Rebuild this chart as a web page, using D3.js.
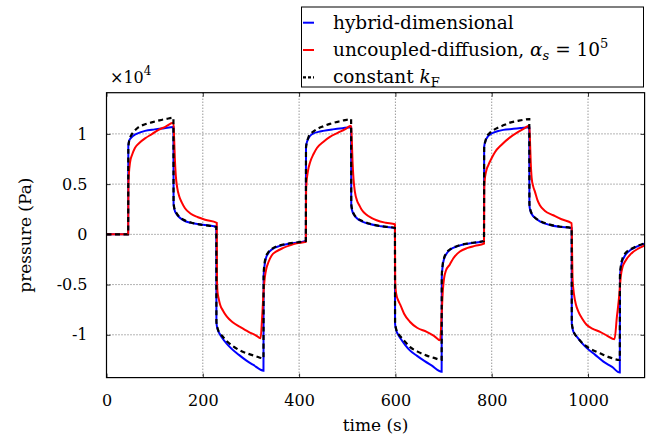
<!DOCTYPE html>
<html><head><meta charset="utf-8">
<script src="https://cdn.jsdelivr.net/npm/d3@7"></script>
<style>body{margin:0;background:#fff}svg{display:block}text{font-family:"DejaVu Serif",serif;fill:#000}</style>
</head><body>
<svg id="c" width="647" height="441"></svg>
<script>
const xTicks = [0,200,400,600,800,1000];
const yTicks = [-1,-0.5,0,0.5,1];
const yTickLabels = ["-1","-0.5","0","0.5","1"];
const seriesNames = ["hybrid-dimensional","uncoupled-diffusion","constant kF"];

const hybrid = [
[0,0],[45,0],[45.3,0.88],[47,0.93],[50,0.955],[55,0.98],[60,0.995],[70,1.015],[80,1.03],[100,1.045],[120,1.057],[139,1.068],
[139.3,0.30],[141,0.25],[145,0.205],[150,0.175],[160,0.14],[175,0.115],[200,0.095],[228,0.075],
[228.3,-0.88],[231,-0.95],[235,-0.99],[240,-1.03],[250,-1.09],[260,-1.14],[275,-1.20],[290,-1.255],[305,-1.30],[326,-1.357],
[326.3,-0.42],[328,-0.32],[331,-0.24],[335,-0.195],[345,-0.145],[360,-0.115],[380,-0.092],[414,-0.066],
[414.3,0.87],[417,0.93],[420,0.96],[425,0.99],[430,1.005],[440,1.02],[450,1.03],[470,1.045],[490,1.057],[508,1.066],
[508.3,0.29],[510,0.24],[514,0.195],[520,0.16],[530,0.13],[545,0.105],[570,0.08],[599,0.062],
[599.3,-0.89],[602,-0.96],[606,-1.0],[611,-1.04],[620,-1.10],[630,-1.155],[645,-1.21],[660,-1.26],[675,-1.305],[696,-1.367],
[696.3,-0.43],[698,-0.32],[701,-0.245],[705,-0.20],[715,-0.148],[730,-0.117],[750,-0.093],[784,-0.067],
[784.3,0.87],[787,0.93],[790,0.96],[797,0.995],[805,1.015],[815,1.03],[824,1.04],[845,1.05],[860,1.058],[878,1.067],
[878.3,0.29],[880,0.24],[884,0.195],[890,0.165],[900,0.13],[921,0.093],[940,0.075],[966,0.062],
[966.3,-0.89],[969,-0.96],[972,-0.99],[977,-1.02],[987,-1.08],[997,-1.13],[1015,-1.2],[1032,-1.267],[1050,-1.32],[1066,-1.376],
[1066.3,-0.43],[1068,-0.34],[1071,-0.27],[1074,-0.235],[1080,-0.19],[1088,-0.156],[1100,-0.125],[1118,-0.09]
];
const uncoupled = [
[0,0],[45,0],[45.5,0.50],[46.5,0.60],[49,0.72],[53,0.79],[59,0.86],[68,0.91],[80,0.955],[95,1.0],[108,1.04],[122,1.07],[139,1.11],
[140.5,0.95],[142,0.75],[144,0.58],[147,0.46],[151,0.38],[156,0.32],[163,0.26],[175,0.205],[190,0.17],[205,0.145],[229,0.115],
[229.5,-0.45],[230.5,-0.57],[233,-0.64],[236,-0.70],[242,-0.76],[250,-0.82],[262,-0.875],[277,-0.92],[295,-0.97],[310,-1.005],[320,-1.035],
[323.5,-0.8],[326.5,-0.55],[329,-0.42],[332,-0.34],[336,-0.28],[343,-0.21],[353,-0.17],[367,-0.135],[381,-0.11],[395,-0.09],[414,-0.075],
[414.5,0.42],[415.5,0.52],[418,0.62],[423,0.72],[430,0.80],[437,0.86],[450,0.92],[464,0.97],[480,1.01],[495,1.045],[508,1.08],
[509.5,0.93],[511,0.72],[513,0.55],[516,0.42],[520,0.34],[525,0.29],[530,0.245],[540,0.195],[550,0.165],[561,0.14],[580,0.115],[599,0.1],
[599.5,-0.45],[600.5,-0.55],[603,-0.62],[606,-0.66],[610,-0.70],[618,-0.79],[630,-0.87],[645,-0.93],[665,-0.97],[680,-1.01],[693,-1.055],
[696,-0.8],[698.5,-0.56],[701,-0.44],[705,-0.36],[713,-0.30],[720,-0.24],[734,-0.17],[750,-0.135],[765,-0.115],[784,-0.092],
[784.5,0.45],[785.5,0.54],[788,0.62],[793,0.69],[800,0.76],[807,0.82],[820,0.89],[838,0.965],[855,1.02],[866,1.05],[878,1.08],
[879.5,0.93],[881,0.72],[883,0.56],[886,0.48],[890,0.42],[895,0.34],[900,0.29],[910,0.235],[928,0.19],[945,0.15],[966,0.11],
[967,-0.2],[968,-0.45],[971,-0.6],[975,-0.7],[980,-0.77],[988,-0.84],[997,-0.9],[1010,-0.94],[1025,-0.97],[1040,-1.01],[1055,-1.045],
[1060,-0.82],[1065,-0.6],[1068,-0.42],[1072,-0.32],[1077,-0.27],[1090,-0.19],[1105,-0.14],[1118,-0.11]
];
const constantKF = [
[0,0],[45,0],[45.3,0.86],[47,0.93],[50,0.975],[53,1.0],[58,1.03],[66,1.065],[80,1.095],[94,1.115],[110,1.135],[125,1.15],[139,1.16],
[139.3,0.32],[141,0.26],[145,0.215],[150,0.18],[160,0.145],[175,0.118],[200,0.093],[228,0.073],
[228.3,-0.87],[231,-0.94],[235,-0.98],[240,-1.01],[250,-1.065],[263,-1.115],[277,-1.155],[295,-1.19],[310,-1.213],[326,-1.234],
[326.3,-0.40],[328,-0.30],[331,-0.225],[335,-0.185],[345,-0.14],[360,-0.11],[380,-0.09],[414,-0.065],
[414.3,0.86],[417,0.93],[420,0.975],[424,1.0],[430,1.025],[440,1.055],[450,1.075],[464,1.10],[480,1.12],[495,1.137],[508,1.147],
[508.3,0.31],[510,0.25],[514,0.2],[520,0.165],[530,0.135],[545,0.108],[570,0.082],[599,0.063],
[599.3,-0.88],[602,-0.95],[606,-0.99],[611,-1.02],[620,-1.07],[630,-1.12],[645,-1.165],[665,-1.207],[680,-1.23],[696,-1.25],
[696.3,-0.41],[698,-0.31],[701,-0.235],[705,-0.19],[715,-0.145],[730,-0.113],[750,-0.09],[784,-0.066],
[784.3,0.86],[787,0.93],[790,0.975],[794,1.0],[800,1.025],[810,1.055],[822,1.08],[838,1.112],[855,1.13],[866,1.14],[878,1.147],
[878.3,0.31],[880,0.25],[884,0.2],[890,0.165],[900,0.135],[921,0.097],[940,0.078],[966,0.063],
[966.3,-0.88],[969,-0.95],[972,-0.99],[977,-1.02],[990,-1.09],[1005,-1.14],[1025,-1.184],[1045,-1.225],[1066,-1.25],
[1066.3,-0.41],[1068,-0.32],[1071,-0.25],[1074,-0.215],[1080,-0.175],[1088,-0.15],[1100,-0.12],[1118,-0.088]
];

const svg = d3.select("#c");
const L = 106.5, R = 644.6, T = 92.7, B = 377.6;
const x = d3.scaleLinear().domain([0, 1117.5]).range([L, R]);
const y = d3.scaleLinear().domain([-1.426, 1.41]).range([B, T]);

svg.append("defs").append("clipPath").attr("id","clip")
  .append("rect").attr("x",L).attr("y",T).attr("width",R-L).attr("height",B-T);

const grid = svg.append("g");
grid.selectAll(".gx").data(xTicks.filter(d=>d>0)).join("line")
  .attr("x1",d=>x(d)).attr("x2",d=>x(d)).attr("y1",T).attr("y2",B)
  .attr("stroke","#444").attr("stroke-width",0.8).attr("stroke-dasharray","1,2");
grid.selectAll(".gy").data(yTicks).join("line")
  .attr("x1",L).attr("x2",R).attr("y1",d=>y(d)).attr("y2",d=>y(d))
  .attr("stroke","#444").attr("stroke-width",0.8).attr("stroke-dasharray","1,2");

const fs = 16;
svg.append("g").attr("transform",`translate(0,${B})`)
  .call(d3.axisBottom(x).tickValues(xTicks).tickSize(-4).tickPadding(17).tickFormat(d3.format("d")));
svg.append("g").attr("transform",`translate(${L},0)`)
  .call(d3.axisLeft(y).tickValues(yTicks).tickSize(-4).tickPadding(19).tickFormat((d,i)=>yTickLabels[i]));
svg.append("g").attr("transform",`translate(0,${T})`)
  .call(d3.axisTop(x).tickValues(xTicks).tickSize(-4).tickFormat(""));
svg.append("g").attr("transform",`translate(${R},0)`)
  .call(d3.axisRight(y).tickValues(yTicks).tickSize(-4).tickFormat(""));
svg.selectAll(".domain").remove();
svg.selectAll(".tick line").attr("stroke","#000").attr("stroke-width",0.8);
svg.selectAll(".tick text").style("font-size",fs+"px").attr("fill","#000");

const line = d3.line().x(d=>x(d[0])).y(d=>y(d[1])).curve(d3.curveMonotoneX);
const plot = svg.append("g").attr("clip-path","url(#clip)");
plot.append("path").datum(hybrid).attr("d",line).attr("fill","none").attr("stroke","#0000ff").attr("stroke-width",2);
plot.append("path").datum(uncoupled).attr("d",line).attr("fill","none").attr("stroke","#ff0000").attr("stroke-width",2);
plot.append("path").datum(constantKF).attr("d",line).attr("fill","none").attr("stroke","#000").attr("stroke-width",2.2).attr("stroke-dasharray","5,3.5");

svg.append("rect").attr("x",L).attr("y",T).attr("width",R-L).attr("height",B-T)
  .attr("fill","none").attr("stroke","#000").attr("stroke-width",1.2);

svg.append("text").attr("x",(L+R)/2).attr("y",431).attr("text-anchor","middle").style("font-size","17px").text("time (s)");
svg.append("text").attr("transform",`translate(31,${(T+B)/2}) rotate(-90)`).attr("text-anchor","middle").style("font-size","17px").text("pressure (Pa)");

const mt = svg.append("text").attr("x",110).attr("y",83).style("font-size","16px");
mt.append("tspan").text("×10");
mt.append("tspan").attr("dy",-8).style("font-size","12px").text("4");

const lg = svg.append("g");
lg.append("rect").attr("x",301.5).attr("y",7).attr("width",342).attr("height",80)
  .attr("fill","#fff").attr("stroke","#000").attr("stroke-width",1);
const rows = [22.7, 50, 77.3];
const styles = [{c:"#0000ff",w:2,da:null},{c:"#ff0000",w:2,da:null},{c:"#000",w:2.2,da:"3,2"}];
rows.forEach((ry,i)=>{
  lg.append("line").attr("x1",303).attr("x2",314).attr("y1",ry).attr("y2",ry)
    .attr("stroke",styles[i].c).attr("stroke-width",styles[i].w).attr("stroke-dasharray",styles[i].da);
});
const lfs = "18.5px";
lg.append("text").attr("x",333).attr("y",rows[0]+6).style("font-size",lfs).text(seriesNames[0]);
const t2 = lg.append("text").attr("x",333).attr("y",rows[1]+6).style("font-size",lfs);
t2.append("tspan").text(seriesNames[1]+", ");
t2.append("tspan").attr("font-style","italic").text("α");
t2.append("tspan").attr("font-style","italic").style("font-size","13px").attr("dy",4).text("s");
t2.append("tspan").attr("dy",-4).text(" = 10");
t2.append("tspan").style("font-size","13px").attr("dy",-8).text("5");
const t3 = lg.append("text").attr("x",333).attr("y",rows[2]+6).style("font-size",lfs);
t3.append("tspan").text("constant ");
t3.append("tspan").attr("font-style","italic").text("k");
t3.append("tspan").style("font-size","13px").attr("dy",4).text("F");
</script>
</body></html>
